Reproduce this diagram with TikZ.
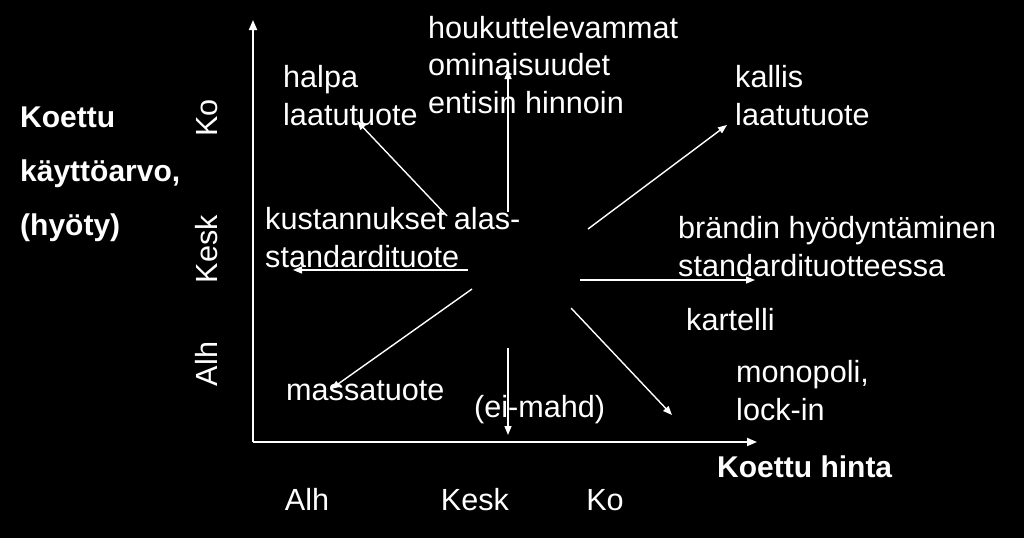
\documentclass[tikz,border=0pt]{standalone}
\usepackage{fontspec}
\setmainfont{Liberation Sans}
\usetikzlibrary{arrows.meta}
\begin{document}
\begin{tikzpicture}[x=1pt,y=-1pt,
  txt/.style={text=white,inner sep=0pt,align=left,font=\fontsize{30.6}{37.5}\selectfont},
  btxt/.style={text=white,inner sep=0pt,align=left,font=\fontsize{30}{54}\selectfont\bfseries},
  arr/.style={draw=white,line width=1.4pt,-{Triangle[length=9pt,width=7pt]}},
  axis/.style={draw=white,line width=1.8pt,-{Triangle[length=10pt,width=8pt]}}]
\useasboundingbox[fill=black] (0,0) rectangle (1024,538);
% axes
\coordinate (O) at (253,442);
\coordinate (Ytop) at (253,20);
\coordinate (Xend) at (757,442);
\draw[axis] (O) -- (Ytop);
\draw[axis] (O) -- (Xend);
% labels
\node[btxt,anchor=base west] (ylab) at (20,235) {Koettu\\käyttöarvo,\\(hyöty)};
\node[btxt,anchor=base west] (xlab) at (717,477) {Koettu hinta};
\node[txt,rotate=90,anchor=base] (yko) at (217,118) {Ko};
\node[txt,rotate=90,anchor=base] (ykesk) at (217,249) {Kesk};
\node[txt,rotate=90,anchor=base] (yalh) at (217,364) {Alh};
\node[txt,anchor=base] (xalh) at (307,510) {Alh};
\node[txt,anchor=base] (xkesk) at (475,510) {Kesk};
\node[txt,anchor=base] (xko) at (605,510) {Ko};
% texts
\node[txt,anchor=base west] (halpa) at (283,125) {halpa\\laatutuote};
\node[txt,anchor=base west] (houk) at (428,113) {houkuttelevammat\\ominaisuudet\\entisin hinnoin};
\node[txt,anchor=base west] (kallis) at (735,125) {kallis\\laatutuote};
\node[txt,anchor=base west] (kust) at (265,267) {kustannukset alas-\\standardituote};
\node[txt,anchor=base west] (brand) at (678,276) {brändin hyödyntäminen\\standardituotteessa};
\node[txt,anchor=base west] (kart) at (686,330) {kartelli};
\node[txt,anchor=base west] (mono) at (736,420) {monopoli,\\lock-in};
\node[txt,anchor=base west] (massa) at (286,400) {massatuote};
\node[txt,anchor=base west] (eimahd) at (474,417) {(ei-mahd)};
% arrow coordinates
\coordinate (a1s) at (447,216); \coordinate (a1e) at (357,121);
\coordinate (a2s) at (508,212); \coordinate (a2e) at (508,70);
\coordinate (a3s) at (588,229); \coordinate (a3e) at (727,125);
\coordinate (a4s) at (468,270); \coordinate (a4e) at (293,270);
\coordinate (a5s) at (580,280); \coordinate (a5e) at (755,280);
\coordinate (a6s) at (472,289); \coordinate (a6e) at (331,389);
\coordinate (a7s) at (508,348); \coordinate (a7e) at (508,435);
\coordinate (a8s) at (571,308); \coordinate (a8e) at (672,415);
\draw[arr] (a1s) -- (a1e);
\draw[arr] (a2s) -- (a2e);
\draw[arr] (a3s) -- (a3e);
\draw[arr] (a4s) -- (a4e);
\draw[arr] (a5s) -- (a5e);
\draw[arr] (a6s) -- (a6e);
\draw[arr] (a7s) -- (a7e);
\draw[arr] (a8s) -- (a8e);
\end{tikzpicture}
\end{document}
